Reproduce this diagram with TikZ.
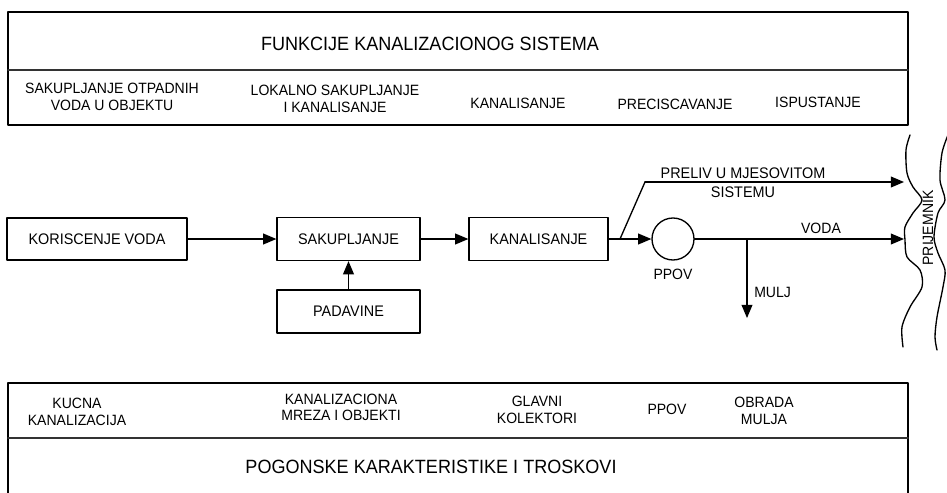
\documentclass[tikz,border=0pt]{standalone}
\usepackage{fontspec}
\setmainfont[FakeStretch=0.94]{Liberation Sans}
\usetikzlibrary{arrows}
\tikzset{
  blok/.style={draw,line width=1.pt,inner sep=0pt,align=center,font=\fontsize{11.5}{13.5}\selectfont},
  natpis/.style={inner sep=0pt,align=center,font=\fontsize{11.2}{12.5}\selectfont},
  naslov/.style={inner sep=0pt,font=\fontsize{14.4}{16}\selectfont},
  tok/.style={line width=1.3pt,->}
}
\begin{document}
\begin{tikzpicture}[line cap=round,line join=round,>=triangle 45,x=0.75pt,y=-0.75pt]
            \useasboundingbox (0,0) rectangle (947,493);
            % gornja tabela
            \draw [line width=1.pt] (8,12) rectangle (908,125);
            \draw [line width=1.4pt, black!80] (8,70)-- (908,70);
            \node [naslov] (funkcije) at (430,44) {FUNKCIJE KANALIZACIONOG SISTEMA};
            \node [natpis] (f1) at (112,97) {SAKUPLJANJE OTPADNIH\\VODA U OBJEKTU};
            \node [natpis] (f2) at (335,99) {LOKALNO SAKUPLJANJE\\I KANALISANJE};
            \node [natpis] (f3) at (518,103) {KANALISANJE};
            \node [natpis] (f4) at (675,104) {PRECISCAVANJE};
            \node [natpis] (f5) at (818,102) {ISPUSTANJE};
            % tok vode
            \node [blok, minimum width=135pt, minimum height=31.5pt] (kor) at (97,239) {KORISCENJE VODA};
            \node [blok, minimum width=107.25pt, minimum height=32.25pt] (sak) at (348.5,239) {SAKUPLJANJE};
            \node [blok, minimum width=107.25pt, minimum height=32.25pt] (pad) at (348.5,311.5) {PADAVINE};
            \node [blok, minimum width=104.25pt, minimum height=32.25pt] (kan) at (538.5,239) {KANALISANJE};
            \node [draw, line width=1.pt, circle, minimum size=31.5pt, inner sep=0pt] (ppov) at (673,239) {};
            \coordinate (grana) at (620,239);
            \coordinate (lom) at (645,182);
            \coordinate (ulaz1) at (904,182);
            \coordinate (ulaz2) at (904,239);
            \coordinate (mulj) at (747,239);
            \coordinate (muljkraj) at (747,318);
            \draw [tok] (kor) -- (sak);
            \draw [tok] (pad) -- (sak);
            \draw [tok] (sak) -- (kan);
            \draw [tok] (kan) -- (ppov);
            \draw [line width=1.pt] (grana) -- (lom);
            \draw [tok] (lom) -- (ulaz1);
            \draw [tok] (ppov) -- (ulaz2);
            \draw [tok] (mulj) -- (muljkraj);
            \node [natpis, font=\fontsize{11.5}{14.3}\selectfont] (preliv) at (743,182.5) {PRELIV U MJESOVITOM\\SISTEMU};
            \node [natpis] (ppovtxt) at (673,274) {PPOV};
            \node [natpis] (voda) at (821,228) {VODA};
            \node [natpis, anchor=west] (muljtxt) at (754,292) {MULJ};
            % prijemnik
            \draw [line width=1.pt] plot [smooth] coordinates {(910,135) (906,150) (907,173) (913,187) (922,200) (913,213) (905,227) (905,240) (907,257) (920,270) (922,287) (910,307) (902,327) (903,347)};
            \draw [line width=1.pt] plot [smooth] coordinates {(948,135) (942,153) (940,180) (945,200) (938,213) (934,237) (938,253) (945,270) (943,287) (937,317) (935,337) (937,350)};
            \node [natpis, rotate=90] (prijemnik) at (928,228) {PRIJEMNIK};
            % donja tabela
            \draw [line width=1.pt] (8,493)-- (8,383)-- (908,383)-- (908,493);
            \draw [line width=1.4pt, black!80] (8,438)-- (908,438);
            \node [natpis] (d1) at (77,412) {KUCNA\\KANALIZACIJA};
            \node [natpis] (d2) at (341,407.5) {KANALIZACIONA\\MREZA I OBJEKTI};
            \node [natpis] (d3) at (537,410) {GLAVNI\\KOLEKTORI};
            \node [natpis] (d4) at (667,409) {PPOV};
            \node [natpis] (d5) at (764,411) {OBRADA\\MULJA};
            \node [naslov] (pogon) at (431,467) {POGONSKE KARAKTERISTIKE I TROSKOVI};
\end{tikzpicture}
\end{document}
